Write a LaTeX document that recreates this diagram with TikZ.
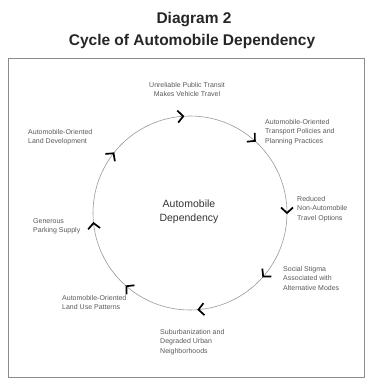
\documentclass[tikz,border=0pt]{standalone}
\usepackage{fontspec}
\setmainfont{Liberation Sans}
\begin{document}
\begin{tikzpicture}[x=1pt,y=1pt,
  lbl/.style={font=\fontsize{7}{9.5}\selectfont, text=black!65, align=left, inner sep=0pt, anchor=north west},
  ttl/.style={font=\fontsize{15.5}{17}\selectfont\bfseries, text=black!85, inner sep=0pt},
  chev/.style={line width=1.7pt, black, line join=miter}]
\useasboundingbox (0,0) rectangle (372,-383);
\node[ttl] (t1) at (194,-20) {Diagram 2};
\node[ttl] (t2) at (192,-41) {Cycle of Automobile Dependency};
\draw[black!45, line width=0.8pt] (8,-58) rectangle (364,-377);
\coordinate (cen) at (190,-213);
\draw[black!40, line width=0.6pt] (cen) circle[radius=97];
\foreach \a in {94,48,0,-41,-85,-131,186,142}{
  \begin{scope}[shift={(cen)}]
    \draw[chev, shift={(\a:97)}, rotate=\a-90] (-5.5,6) -- (0,0) -- (-5.5,-6);
  \end{scope}
}
\node[font=\fontsize{10.5}{14}\selectfont, text=black!80, align=center, inner sep=0pt] (c) at (189,-212) {Automobile\\Dependency};
\node[lbl, align=center, anchor=north] (n1) at (187,-82) {Unreliable Public Transit\\Makes Vehicle Travel};
\node[lbl] (n2) at (265,-119) {Automobile-Oriented\\Transport Policies and\\Planning Practices};
\node[lbl] (n3) at (297,-196) {Reduced\\Non-Automobile\\Travel Options};
\node[lbl] (n4) at (283,-266) {Social Stigma\\Associated with\\Alternative Modes};
\node[lbl] (n5) at (160,-329) {Suburbanization and\\Degraded Urban\\Neighborhoods};
\node[lbl] (n6) at (62,-295) {Automobile-Oriented\\Land Use Patterns};
\node[lbl] (n7) at (33,-218) {Generous\\Parking Supply};
\node[lbl] (n8) at (28,-129) {Automobile-Oriented\\Land Development};
\end{tikzpicture}
\end{document}
